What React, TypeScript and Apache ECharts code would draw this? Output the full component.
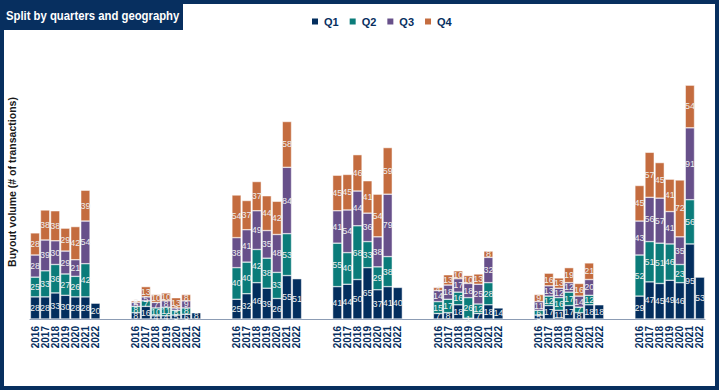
import React, { useEffect, useRef } from "react";
import * as echarts from "echarts";

const years = ["2016", "2017", "2018", "2019", "2020", "2021", "2022"];
const quarterNames = ["Q1", "Q2", "Q3", "Q4"];
const quarterColors = ["#032E5E", "#0B7C7A", "#67508A", "#C46C3F"];

// one inner array per geography group, values for 2016..2022
const q1 = [
  [28, 28, 33, 30, 28, 28, 20],
  [8, 16, 4, 4, 5, 6, 8],
  [25, 32, 46, 39, 26, 55, 51],
  [41, 44, 50, 65, 37, 41, 40],
  [7, 8, 18, 1, 7, 18, 14],
  [5, 17, 11, 17, 8, 18, 18],
  [29, 47, 45, 49, 46, 95, 53],
];
const q2 = [
  [25, 33, 36, 27, 26, 42, null],
  [8, 7, 10, 11, 6, 8, null],
  [40, 40, 42, 38, 33, 53, null],
  [55, 40, 68, 33, 29, 38, null],
  [15, 17, 16, 26, 12, 28, null],
  [6, 12, 16, 17, 7, 12, null],
  [52, 51, 51, 46, 23, 56, null],
];
const q3 = [
  [28, 39, 30, 29, 21, 54, null],
  [5, 5, 7, 8, 3, 9, null],
  [38, 41, 49, 35, 48, 84, null],
  [41, 54, 44, 36, 38, 79, null],
  [14, 18, 17, 18, 25, 32, null],
  [11, 13, 12, 12, 14, 20, null],
  [43, 56, 57, 41, 35, 91, null],
];
const q4 = [
  [28, 38, 38, 29, 42, 39, null],
  [2, 13, 10, 10, 13, 8, null],
  [54, 37, 37, 44, 42, 58, null],
  [45, 45, 46, 41, 54, 59, null],
  [4, 13, 10, 10, 13, 8, null],
  [9, 16, 13, 19, 16, 21, null],
  [45, 57, 45, 41, 72, 54, null],
];
const gapSlots = 3;

const NAVY = "#072F5F";
const FONT = "Liberation Sans, Arial, sans-serif";

function buildCategories() {
  const cats: string[] = [];
  const groups = q1.length;
  for (let g = 0; g < groups; g++) {
    years.forEach((y) => cats.push(`${g}|${y}`));
    if (g < groups - 1) for (let k = 0; k < gapSlots; k++) cats.push(`${g}|gap${k}`);
  }
  return cats;
}

function flatten(q: (number | null)[][]) {
  const out: (number | null)[] = [];
  q.forEach((grp, g) => {
    grp.forEach((v) => out.push(v));
    if (g < q.length - 1) for (let k = 0; k < gapSlots; k++) out.push(null);
  });
  return out;
}

export default function App() {
  const ref = useRef<HTMLDivElement>(null);
  useEffect(() => {
    if (!ref.current) return;
    const chart = echarts.init(ref.current, undefined, { renderer: "svg" });
    const cats = buildCategories();
    const all = [q1, q2, q3, q4];
    const series = all.map((q, i) => ({
      name: quarterNames[i],
      type: "bar",
      stack: "total",
      barWidth: "92%",
      data: flatten(q),
      itemStyle: { color: quarterColors[i], borderColor: "#ffffff", borderWidth: 0.5 },
      label: {
        show: true,
        position: "inside",
        color: "#EEEEEE",
        fontSize: 9,
        fontFamily: FONT,
        formatter: (p: any) => (p.value == null ? "" : String(p.value)),
      },
    }));
    chart.setOption({
      animation: false,
      grid: { left: 30, right: 14, top: 82, bottom: 71 },
      legend: {
        data: quarterNames,
        left: 305,
        top: 11,
        itemWidth: 8,
        itemHeight: 8,
        itemGap: 9,
        icon: "rect",
        textStyle: {
          color: NAVY,
          fontWeight: "bold",
          fontSize: 11,
          fontFamily: FONT,
        },
      },
      xAxis: {
        type: "category",
        data: cats,
        axisLine: { show: true, lineStyle: { color: "#8C9CB4", width: 1 } },
        axisTick: { show: false },
        axisLabel: {
          interval: 0,
          rotate: 90,
          margin: 7,
          color: NAVY,
          fontWeight: "bold",
          fontSize: 10,
          fontFamily: FONT,
          formatter: (v: string) => {
            const part = v.split("|")[1];
            return part.startsWith("gap") ? "" : part;
          },
        },
      },
      yAxis: {
        type: "value",
        min: 0,
        max: 300,
        axisLine: { show: false },
        axisTick: { show: false },
        axisLabel: { show: false },
        splitLine: { show: false },
      },
      graphic: [
        {
          type: "rect",
          shape: { x: 2, y: 2, width: 715, height: 386 },
          style: { fill: "none", stroke: NAVY, lineWidth: 4 },
          silent: true,
        },
        {
          type: "rect",
          shape: { x: 0, y: 0, width: 183, height: 30 },
          style: { fill: NAVY },
          silent: true,
        },
        {
          type: "text",
          x: 6,
          y: 16,
          scaleX: 0.87,
          style: {
            text: "Split by quarters and geography",
            fill: "#ffffff",
            fontSize: 13,
            fontWeight: "bold",
            fontFamily: FONT,
            verticalAlign: "middle",
            align: "left",
          },
        },
        {
          type: "text",
          x: 12,
          y: 182,
          rotation: Math.PI / 2,
          style: {
            text: "Buyout volume (# of transactions)",
            fill: "#1A1A1A",
            fontSize: 10.5,
            fontWeight: "bold",
            fontFamily: FONT,
            align: "center",
            verticalAlign: "middle",
          },
        },
      ],
      series,
    });
    return () => chart.dispose();
  }, []);
  return (
    <div
      ref={ref}
      style={{ position: "fixed", left: 0, top: 0, width: 719, height: 390, background: "#ffffff" }}
    />
  );
}
